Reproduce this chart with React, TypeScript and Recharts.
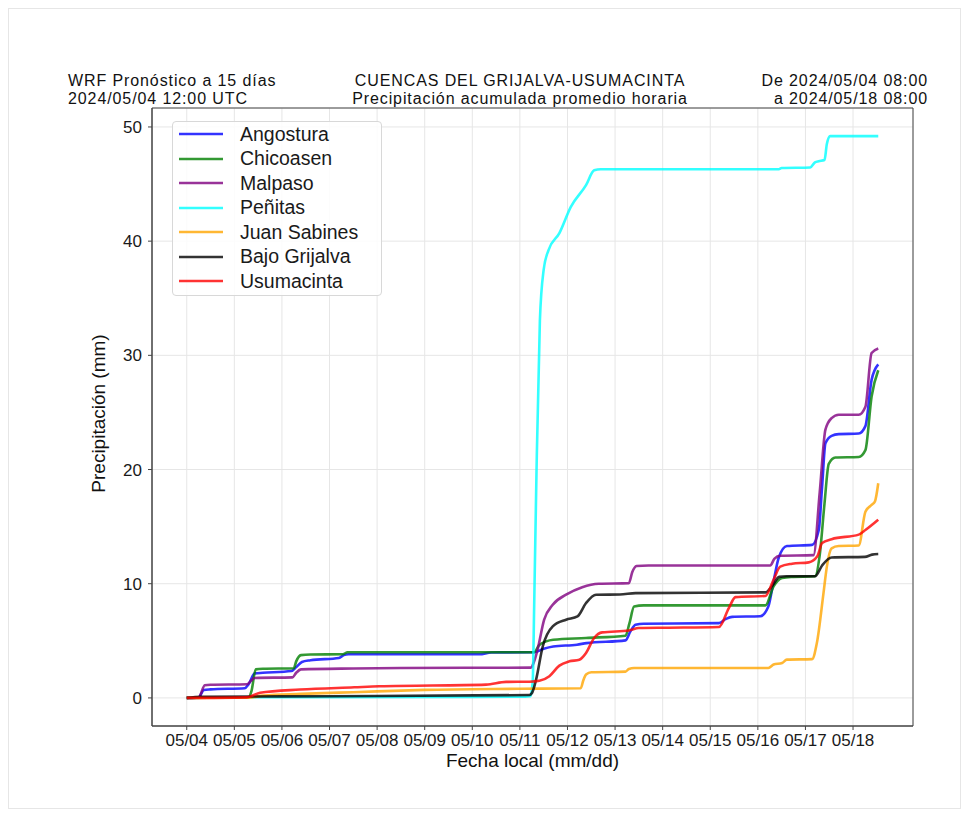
import React from 'react'
import { LineChart, Line, XAxis, YAxis, CartesianGrid, Legend, ReferenceArea } from 'recharts'

const FONT = '"Liberation Sans", Arial, Helvetica, sans-serif'

// x values are days since 05/04 00:00 (local), y values are accumulated mm
const DAY_LABELS = [
  '05/04', '05/05', '05/06', '05/07', '05/08', '05/09', '05/10', '05/11',
  '05/12', '05/13', '05/14', '05/15', '05/16', '05/17', '05/18',
]
const DAY_TICKS = DAY_LABELS.map((_, i) => i)
const PRECIP_TICKS = [0, 10, 20, 30, 40, 50]

const angostura: [number, number][] = [
  [0, 0], [0.25, 0.05], [0.36, 0.7], [0.5, 0.75], [1.22, 0.85], [1.3, 1.2], [1.43, 2.15],
  [1.6, 2.2], [2.2, 2.35], [2.3, 2.7], [2.42, 3.15], [2.6, 3.3], [3.2, 3.5], [3.3, 3.75],
  [3.4, 3.82], [4, 3.82], [6.15, 3.82], [6.4, 3.98], [7.3, 4.0], [7.5, 4.3], [7.7, 4.5],
  [8.2, 4.66], [8.4, 4.8], [9.22, 5.04], [9.32, 5.8], [9.43, 6.4], [9.6, 6.5], [11.18, 6.55],
  [11.32, 6.9], [11.46, 7.1], [12.05, 7.15], [12.22, 8.0], [12.33, 10.2], [12.44, 12.3],
  [12.61, 13.3], [13.14, 13.4], [13.28, 14.7], [13.35, 18.5], [13.42, 22.3], [13.55, 22.95],
  [13.7, 23.1], [14.12, 23.15], [14.26, 23.8], [14.39, 27.85], [14.53, 29.2],
]

const chicoasen: [number, number][] = [
  [0, 0], [1.3, 0.05], [1.36, 0.6], [1.45, 2.5], [1.6, 2.55], [2.25, 2.6], [2.3, 3.2],
  [2.4, 3.75], [2.6, 3.8], [3.28, 3.82], [3.38, 4.0], [7.3, 4.0], [7.4, 4.6], [7.55, 4.95],
  [7.7, 5.1], [8.39, 5.25], [9.22, 5.45], [9.3, 6.5], [9.4, 8.0], [9.6, 8.1], [12.16, 8.1],
  [12.33, 9.76], [12.51, 10.5], [12.7, 10.6], [13.2, 10.65], [13.3, 12.5], [13.4, 17.0],
  [13.49, 20.5], [13.63, 21.05], [14.12, 21.1], [14.26, 21.7], [14.39, 26.4], [14.53, 28.7],
]

const malpaso: [number, number][] = [
  [0, 0], [0.25, 0.05], [0.38, 1.1], [0.5, 1.15], [1.27, 1.2], [1.35, 1.5], [1.43, 1.75],
  [2.22, 1.8], [2.3, 2.2], [2.4, 2.5], [3.5, 2.58], [4.5, 2.62], [7.23, 2.65], [7.3, 3.2],
  [7.37, 4.2], [7.51, 6.85], [7.69, 8.16], [7.97, 9.04], [8.31, 9.7], [8.66, 10.0],
  [9.29, 10.05], [9.36, 11.0], [9.45, 11.55], [9.7, 11.6], [12.26, 11.6], [12.35, 12.2],
  [12.47, 12.45], [13.17, 12.5], [13.3, 18.0], [13.42, 23.5], [13.55, 24.5], [13.7, 24.8],
  [14.12, 24.8], [14.26, 25.5], [14.39, 30.2], [14.53, 30.6],
]

const penitas: [number, number][] = [
  [0, 0], [0.5, 0.05], [7.0, 0.1], [7.22, 0.15], [7.27, 1.5], [7.3, 8], [7.35, 20],
  [7.42, 33], [7.5, 37.5], [7.6, 39.2], [7.83, 40.7], [8.07, 43.0], [8.39, 44.9],
  [8.56, 46.2], [8.7, 46.3], [12.44, 46.3], [12.5, 46.4], [13.1, 46.45], [13.2, 46.9],
  [13.28, 47.0], [13.4, 47.1], [13.45, 48.5], [13.52, 49.2], [14.53, 49.2],
]

const juanSabines: [number, number][] = [
  [0, 0], [1.3, 0.02], [1.6, 0.2], [2.4, 0.35], [3.5, 0.5], [5, 0.7], [7, 0.8],
  [8.28, 0.85], [8.33, 1.5], [8.39, 2.05], [8.5, 2.25], [9.22, 2.3], [9.29, 2.54],
  [9.4, 2.62], [12.22, 2.62], [12.33, 2.92], [12.51, 3.06], [12.61, 3.35], [13.14, 3.4],
  [13.24, 4.8], [13.38, 9.2], [13.45, 11.5], [13.55, 13.1], [13.7, 13.3], [14.12, 13.35],
  [14.26, 16.3], [14.39, 16.9], [14.46, 17.2], [14.53, 18.8],
]

const bajoGrijalva: [number, number][] = [
  [0, 0], [0.3, 0.1], [3, 0.15], [7.2, 0.25], [7.25, 0.4], [7.34, 1.6], [7.48, 4.5],
  [7.69, 6.27], [7.97, 6.85], [8.21, 7.14], [8.39, 8.31], [8.6, 9.04], [9.1, 9.05],
  [9.43, 9.18], [12.16, 9.24], [12.3, 9.8], [12.45, 10.6], [12.6, 10.65], [13.2, 10.65],
  [13.35, 11.6], [13.55, 12.3], [14.25, 12.35], [14.4, 12.55], [14.53, 12.6],
]

const usumacinta: [number, number][] = [
  [0, 0], [1.26, 0.05], [1.54, 0.45], [2.38, 0.73], [3.52, 0.93], [4.05, 1.02],
  [6.29, 1.16], [6.71, 1.4], [7.2, 1.42], [7.41, 1.5], [7.62, 1.9], [7.83, 2.83],
  [8.04, 3.2], [8.25, 3.35], [8.39, 3.94], [8.56, 5.25], [8.73, 5.74], [9.29, 5.9],
  [9.5, 6.12], [10.13, 6.15], [11.18, 6.21], [11.39, 7.87], [11.53, 8.83], [12.16, 8.93],
  [12.33, 10.35], [12.47, 11.5], [12.72, 11.75], [13.07, 11.87], [13.25, 12.4],
  [13.35, 13.56], [13.55, 13.9], [14.12, 14.3], [14.26, 14.7], [14.53, 15.6],
]

const SERIES = [
  { name: 'Angostura', color: '#0000ff', points: angostura },
  { name: 'Chicoasen', color: '#008000', points: chicoasen },
  { name: 'Malpaso', color: '#800080', points: malpaso },
  { name: 'Peñitas', color: '#00ffff', points: penitas },
  { name: 'Juan Sabines', color: '#ffa500', points: juanSabines },
  { name: 'Bajo Grijalva', color: '#000000', points: bajoGrijalva },
  { name: 'Usumacinta', color: '#ff0000', points: usumacinta },
]

const X_DOMAIN = [-0.73, 15.26]
const Y_DOMAIN = [-2.46, 51.66]

// legend keeps the plotting order (recharts would sort it by name)
function LegendBox() {
  return (
    <div
      style={{
        width: 210, height: 175, boxSizing: 'border-box',
        border: '1px solid #d8d8d8', borderRadius: 4,
        background: 'rgba(255,255,255,0.85)',
        fontFamily: FONT, fontSize: 19.5, color: '#1a1a1a',
      }}
    >
      {SERIES.map(s => (
        <div key={s.name} style={{ display: 'flex', alignItems: 'center', height: 24.5 }}>
          <svg width={44} height={4} style={{ marginLeft: 6, marginRight: 17, flex: 'none' }}>
            <line x1={0} y1={2} x2={44} y2={2} stroke={s.color} strokeOpacity={0.8} strokeWidth={2.6} />
          </svg>
          <span style={{ whiteSpace: 'nowrap' }}>{s.name}</span>
        </div>
      ))}
    </div>
  )
}

const titleLine: React.CSSProperties = {
  position: 'absolute', fontFamily: FONT, fontSize: 16, lineHeight: '17px',
  letterSpacing: 0.9, color: '#111', whiteSpace: 'nowrap',
}

export default function App() {
  return (
    <div style={{ position: 'relative', width: 953, height: 801, background: '#fff' }}>
      <div style={{ position: 'absolute', inset: 0, border: '1px solid #e6e6e6', pointerEvents: 'none' }} />

      <div style={{ ...titleLine, left: 60, top: 64 }}>WRF Pronóstico a 15 días</div>
      <div style={{ ...titleLine, left: 60, top: 82 }}>2024/05/04 12:00 UTC</div>
      <div style={{ ...titleLine, left: 312, width: 400, top: 64, textAlign: 'center' }}>
        CUENCAS DEL GRIJALVA-USUMACINTA
      </div>
      <div style={{ ...titleLine, left: 312, width: 400, top: 82, textAlign: 'center' }}>
        Precipitación acumulada promedio horaria
      </div>
      <div style={{ ...titleLine, right: 953 - 920, top: 64, textAlign: 'right' }}>De 2024/05/04 08:00</div>
      <div style={{ ...titleLine, right: 953 - 920, top: 82, textAlign: 'right' }}>a 2024/05/18 08:00</div>

      <div style={{ position: 'absolute', left: 0, top: 0 }}>
        <LineChart width={953} height={801} margin={{ top: 100, right: 48, left: 94, bottom: 53 }}>
          <CartesianGrid stroke="#e6e6e6" />
          <XAxis
            type="number"
            dataKey="d"
            domain={X_DOMAIN}
            ticks={DAY_TICKS}
            interval={0}
            allowDataOverflow
            height={30}
            tickFormatter={(i: number) => DAY_LABELS[i] ?? ''}
            tick={{ fill: '#1a1a1a', fontSize: 17, fontFamily: FONT }}
            tickSize={4}
            tickMargin={4}
            stroke="#444"
          />
          <YAxis
            type="number"
            domain={Y_DOMAIN}
            ticks={PRECIP_TICKS}
            allowDataOverflow
            width={50}
            tick={{ fill: '#1a1a1a', fontSize: 17, fontFamily: FONT }}
            tickSize={4}
            tickMargin={6}
            stroke="#444"
          />
          <ReferenceArea
            x1={X_DOMAIN[0]} x2={X_DOMAIN[1]} y1={Y_DOMAIN[0]} y2={Y_DOMAIN[1]}
            fill="none" stroke="#444" strokeWidth={1}
          />
          {SERIES.map(s => (
            <Line
              key={s.name}
              name={s.name}
              data={s.points.map(([d, v]) => ({ d, v }))}
              dataKey="v"
              type="monotone"
              stroke={s.color}
              strokeOpacity={0.8}
              strokeWidth={2.6}
              dot={false}
              activeDot={false}
              isAnimationActive={false}
            />
          ))}
          <Legend
            layout="vertical"
            align="center"
            verticalAlign="middle"
            content={<LegendBox />}
            wrapperStyle={{ left: 164, top: 113, width: 210, height: 175 }}
          />
        </LineChart>
      </div>

      <div
        style={{
          position: 'absolute', left: 524.5 - 200, width: 400, top: 742.6,
          textAlign: 'center', fontFamily: FONT, fontSize: 19, lineHeight: '19px', color: '#111',
        }}
      >
        Fecha local (mm/dd)
      </div>
      <div
        style={{
          position: 'absolute', left: 90.4 - 150, top: 405 - 9.5, width: 300, height: 19,
          textAlign: 'center', fontFamily: FONT, fontSize: 19, lineHeight: '19px', color: '#111',
          transform: 'rotate(-90deg)', transformOrigin: 'center',
        }}
      >
        Precipitación (mm)
      </div>
    </div>
  )
}
